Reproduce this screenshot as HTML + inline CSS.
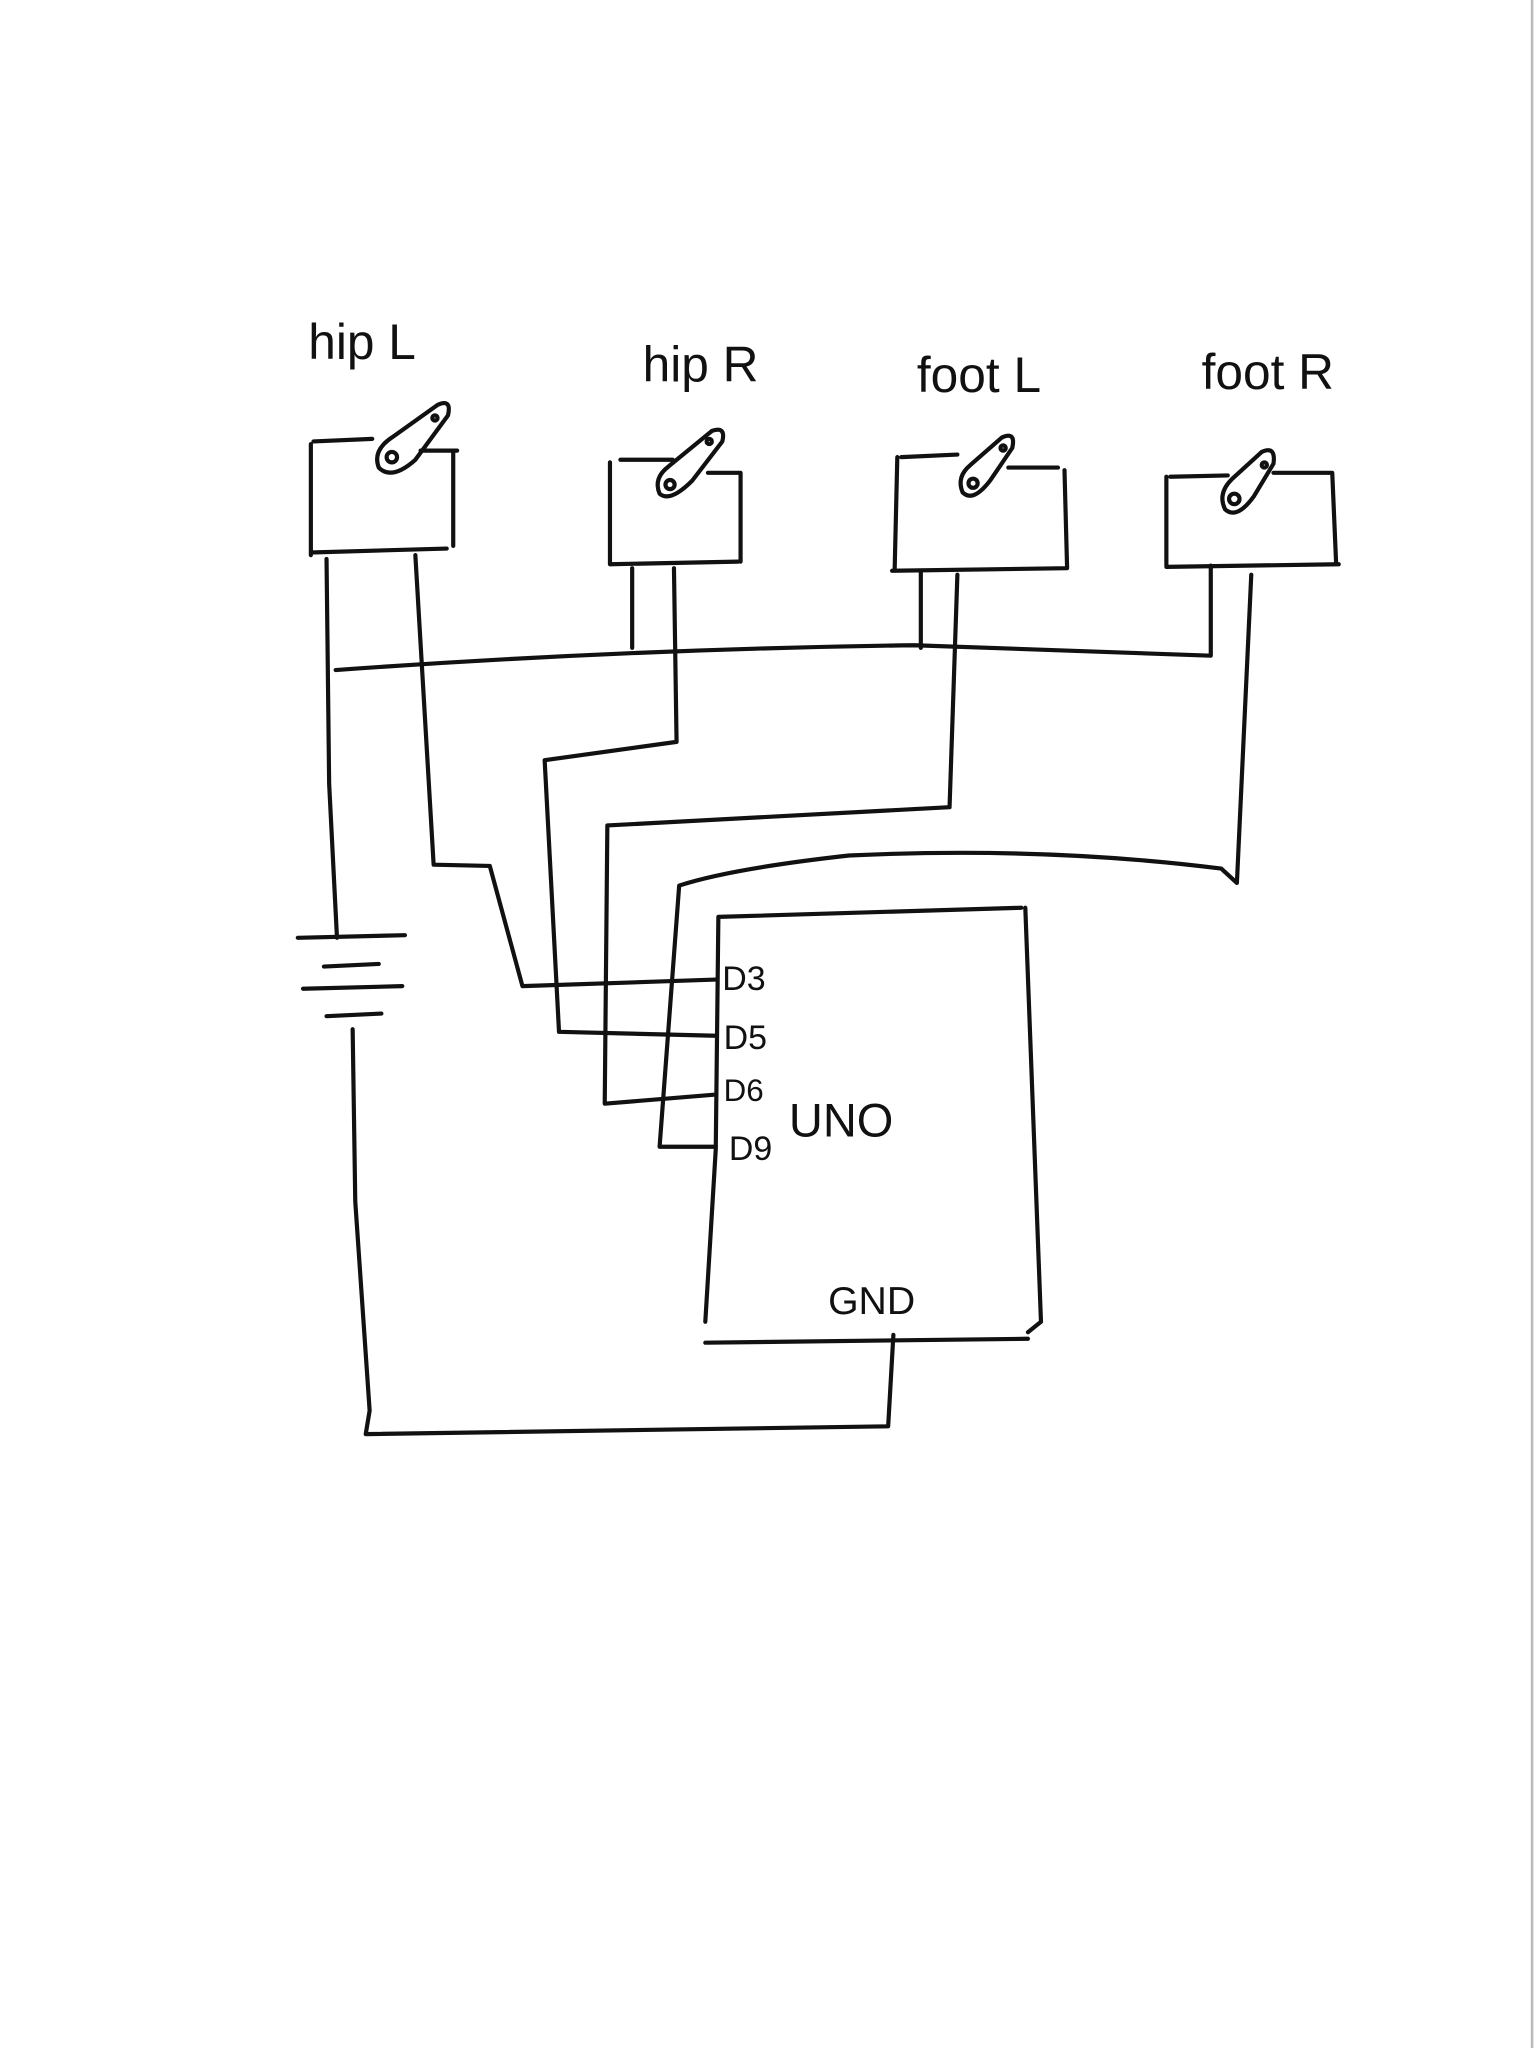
<!DOCTYPE html>
<html><head><meta charset="utf-8"><style>
html,body{margin:0;padding:0;background:#fff;}
svg{display:block;}
text{font-family:"Liberation Sans",sans-serif;fill:#111;}
</style></head><body>
<svg width="1536" height="2048" viewBox="0 0 1176 1568" xmlns="http://www.w3.org/2000/svg">
<rect width="1176" height="1568" fill="#fff"/>
<line x1="1173" y1="0" x2="1173" y2="1568" stroke="#bbb" stroke-width="2"/>
<g fill="none" stroke="#111" stroke-width="3.2" stroke-linecap="round" stroke-linejoin="round">
<!-- hip L servo -->
<path d="M240 338 L285 336 M238 340 L238 425 M238 423 L342 420 M347 345 L347 418 M322 345 L350 345"/>
<path d="M290 358 Q285 345 300 335 L335 310 Q346 305 343 318 L318 352 Q300 368 290 358 Z"/>
<circle cx="300" cy="350" r="4"/><circle cx="333" cy="320" r="2"/>
<!-- hip R servo -->
<path d="M475 352 L515 352 M467 354 L467 432 M467 432 L565 430 M567 362 L567 430 M542 362 L567 362"/>
<path d="M505 378 Q500 366 512 357 L545 330 Q556 326 553 338 L530 368 Q513 385 505 378 Z"/>
<circle cx="513" cy="371" r="3.5"/><circle cx="543" cy="338" r="2"/>
<!-- foot L servo -->
<path d="M690 350 L733 348 M687 350 L685 435 M683 437 L817 435 M815 360 L817 435 M772 358 L810 358"/>
<path d="M737 377 Q732 365 743 356 L767 335 Q778 330 775 343 L758 368 Q745 385 737 377 Z"/>
<circle cx="745" cy="370" r="3.5"/><circle cx="768" cy="343" r="2"/>
<!-- foot R servo -->
<path d="M896 365 L940 364 M893 365 L893 433 M893 434 L1025 432 M1020 362 L1023 432 M975 362 L1020 362"/>
<path d="M938 390 Q932 378 943 367 L966 346 Q977 341 975 355 L960 380 Q947 398 938 390 Z"/>
<circle cx="945" cy="382" r="4"/><circle cx="968" cy="356" r="2"/>
<!-- power bus -->
<path d="M257 513 Q480 497 700 494 L927 502 L927 433"/>
<path d="M484 435 L484 496 M705 438 L705 496"/>
<!-- hip L ground wire to battery -->
<path d="M250 428 L252 600 L258 718"/>
<!-- signal wires -->
<path d="M318 425 L332 662 L375 663 L400 755 L548 750"/>
<path d="M516 435 L518 568 L417 582 L428 790 L548 793"/>
<path d="M733 440 L727 618 L465 632 L463 845 L548 838"/>
<path d="M958 440 L947 676 L935 665 Q800 648 650 655 Q560 665 520 678 L505 878 L548 878"/>
<!-- battery -->
<path d="M228 718 L310 716 M248 740 L290 738 M232 757 L308 755 M250 778 L292 776"/>
<path d="M270 788 L272 920 L283 1080 L280 1098 L680 1092 L684 1022"/>
<!-- UNO -->
<path d="M550 702 L782 695 M550 702 L548 880 L540 1012 M785 695 L797 1012 L787 1020 M540 1028 L787 1025"/>
</g>
<g font-size="30">
<text x="236" y="275" font-size="38">hip L</text>
<text x="492" y="292" font-size="38">hip R</text>
<text x="702" y="300" font-size="38">foot L</text>
<text x="920" y="298" font-size="38">foot R</text>
<text x="553" y="758" font-size="26">D3</text>
<text x="554" y="803" font-size="26">D5</text>
<text x="554" y="843" font-size="24">D6</text>
<text x="558" y="888" font-size="26">D9</text>
<text x="604" y="870" font-size="36">UNO</text>
<text x="634" y="1006" font-size="30">GND</text>
</g>
</svg>
</body></html>
